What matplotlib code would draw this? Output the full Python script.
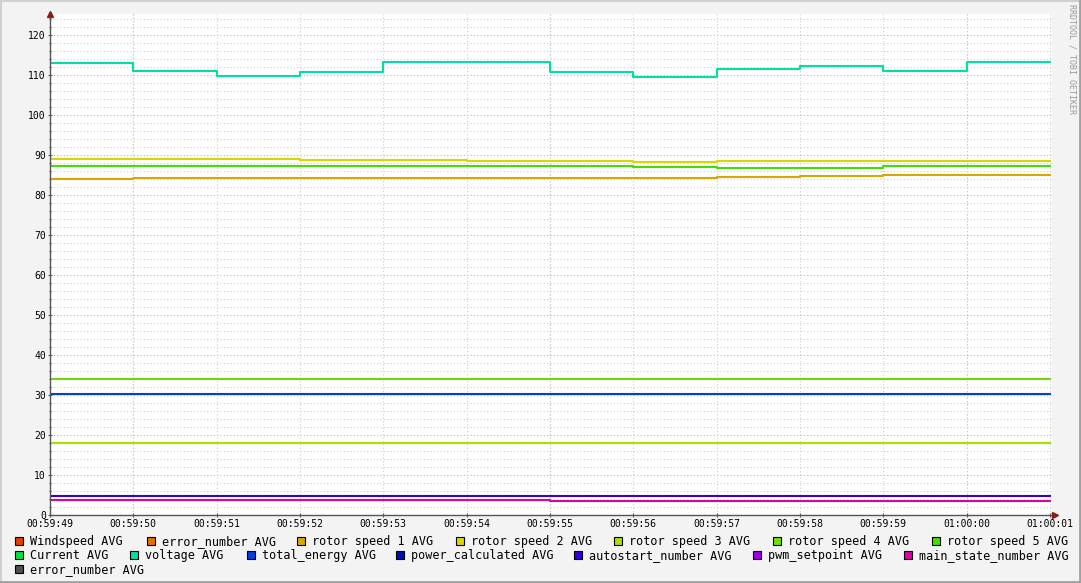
"""RRDtool style overview of the turbine averages."""

import matplotlib

matplotlib.use("Agg")
import matplotlib.dates as mdates
import matplotlib.pyplot as plt
import numpy as np
import pandas as pd
from matplotlib.lines import Line2D
from matplotlib.patches import Rectangle
from matplotlib.ticker import MultipleLocator

# one value per second (step interval), last value repeated to close the step
times = pd.date_range("2024-01-01 00:59:49", "2024-01-01 01:00:01", freq="1s")

voltage = [112.9, 111.1, 109.8, 110.8, 113.3, 113.3, 110.8, 109.6, 111.5, 112.3, 111.1, 113.3]
rotor_speed_1 = [84.0, 84.3, 84.3, 84.3, 84.3, 84.3, 84.3, 84.3, 84.5, 84.8, 85.1, 85.1]
rotor_speed_2 = [89.0, 89.0, 89.0, 88.8, 88.8, 88.6, 88.6, 88.3, 88.6, 88.6, 88.6, 88.6]
rotor_speed_3 = [18.1] * 12
rotor_speed_4 = [34.1] * 12
rotor_speed_5 = [87.3, 87.3, 87.3, 87.3, 87.3, 87.3, 87.3, 87.1, 86.8, 86.8, 87.25, 87.25]
total_energy = [30.25] * 12
autostart_number = [4.75] * 12
main_state_number = [3.8, 3.8, 3.8, 3.8, 3.8, 3.8, 3.6, 3.6, 3.6, 3.6, 3.6, 3.6]

legend_labels = [
    "Windspeed AVG", "error_number AVG", "rotor speed 1 AVG", "rotor speed 2 AVG",
    "rotor speed 3 AVG", "rotor speed 4 AVG", "rotor speed 5 AVG",
    "Current AVG", "voltage AVG", "total_energy AVG", "power_calculated AVG",
    "autostart_number AVG", "pwm_setpoint AVG", "main_state_number AVG",
    "error_number AVG",
]
legend_colors = [
    "#e04000", "#e07000", "#d8a800", "#d8d800", "#a8e000", "#70e000", "#40e000",
    "#00e040", "#00e0a0", "#0040e0", "#0010b0", "#3000e0", "#a000e0", "#e000a0",
    "#505050",
]
# x pixel of each legend box, per row
legend_x = [15, 147, 297, 456, 614, 773, 932,
            15, 130, 247, 396, 574, 753, 904,
            15]
legend_row = [0] * 7 + [1] * 7 + [2]

series = [
    (voltage, "#00e0a0"),
    (rotor_speed_1, "#d8a800"),
    (rotor_speed_2, "#d8d800"),
    (rotor_speed_3, "#a8e000"),
    (rotor_speed_4, "#70d800"),
    (rotor_speed_5, "#40e000"),
    (total_energy, "#0040e0"),
    (autostart_number, "#3000e0"),
    (main_state_number, "#e000a0"),
]

W, H = 1081, 583
MONO = "DejaVu Sans Mono"
GRID_MINOR = "#cfcfcf"
GRID_MAJOR = "#dcaaaa"

fig = plt.figure(figsize=(W / 100, H / 100), dpi=100, facecolor="#f3f3f3")

# frame around the image: light top/left, darker bottom/right
fig.add_artist(Line2D([0.5 / W, 0.5 / W], [0, 1], color="#d0d0d0", lw=1.5))
fig.add_artist(Line2D([0, 1], [1 - 0.5 / H, 1 - 0.5 / H], color="#d0d0d0", lw=1.5))
fig.add_artist(Line2D([1 - 1 / W, 1 - 1 / W], [0, 1], color="#a0a0a0", lw=2))
fig.add_artist(Line2D([0, 1], [1 / H, 1 / H], color="#a0a0a0", lw=2))

left, right, top, bottom = 50, 1052, 14, 515
ax = fig.add_axes([left / W, 1 - bottom / H, (right - left) / W, (bottom - top) / H])
ax.set_facecolor("white")

for values, color in series:
    ax.plot(times, values + values[-1:], drawstyle="steps-post", color=color, lw=1.5, zorder=3)

t0 = mdates.date2num(times[0])
px_per_day = 1000 / (mdates.date2num(times[-1]) - t0)
ax.set_xlim(t0, t0 + (right - left) / px_per_day)
ax.set_ylim(0, (bottom - top) / 4)

# grid: gray every second / every 2 units, reddish every 5 s / 10 units
ax.xaxis.set_major_locator(mdates.SecondLocator(interval=1))
ax.xaxis.set_major_formatter(mdates.DateFormatter("%H:%M:%S"))
ax.yaxis.set_major_locator(MultipleLocator(10))
ax.yaxis.set_minor_locator(MultipleLocator(2))
dotted = (0, (1, 2))
ax.grid(True, axis="x", which="major", color=GRID_MINOR, ls=dotted, lw=0.8, zorder=1)
ax.grid(True, axis="y", which="minor", color=GRID_MINOR, ls=dotted, lw=0.8, zorder=1)
for t in times:
    if t.second % 5 == 0:
        ax.axvline(t, color=GRID_MAJOR, ls=dotted, lw=0.8, zorder=1)
for v in range(10, 125, 10):
    ax.axhline(v, color=GRID_MAJOR, ls=dotted, lw=0.8, zorder=1)

for name in ("top", "right"):
    ax.spines[name].set_visible(False)
for name in ("left", "bottom"):
    ax.spines[name].set_color("#555555")
    ax.spines[name].set_linewidth(1.0)
    ax.spines[name].set_zorder(4)

ax.tick_params(axis="both", which="both", direction="inout", length=3, width=0.8,
               color="#555555", labelsize=7, labelcolor="black", pad=1.5)
ax.tick_params(axis="y", which="minor", length=2)
for lab in ax.get_xticklabels() + ax.get_yticklabels():
    lab.set_fontfamily(MONO)

# arrow heads at the end of both axes
ax.plot([0], [1], marker="^", ms=5, color="#8b1a1a", transform=ax.transAxes,
        clip_on=False, zorder=5)
ax.plot([1.003], [0], marker=">", ms=5, color="#8b1a1a", transform=ax.transAxes,
        clip_on=False, zorder=5)

# legend in rrdtool fashion
for label, color, x, row in zip(legend_labels, legend_colors, legend_x, legend_row):
    y_top = 537 + row * 14
    fig.add_artist(Rectangle((x / W, 1 - (y_top + 8) / H), 8 / W, 8 / H,
                             facecolor=color, edgecolor="black", lw=0.8,
                             transform=fig.transFigure))
    fig.text((x + 15) / W, 1 - (y_top + 4.5) / H, label, fontsize=8.5,
             family=MONO, va="center", ha="left", color="black")

fig.text(1072 / W, 1 - 4 / H, "RRDTOOL / TOBI OETIKER", rotation=270, fontsize=6,
         family=MONO, color="#9a9a9a", ha="center", va="top")

fig.savefig("out.png", dpi=100, facecolor=fig.get_facecolor())
